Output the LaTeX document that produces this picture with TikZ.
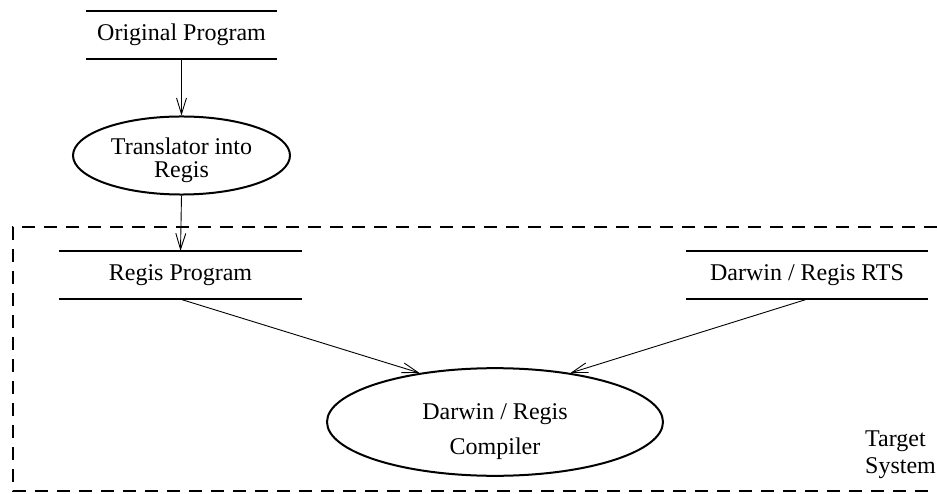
\documentclass[tikz,border=0pt]{standalone}
\usepackage{fontspec}
\setmainfont{Liberation Serif}
\usetikzlibrary{arrows.meta,shapes.geometric}

\tikzset{
  txt/.style={font=\fontsize{24}{24}\selectfont, inner sep=0pt},
  store/.style={txt, minimum height=48pt},
  storeline/.style={line width=2pt},
  process/.style={txt, ellipse, draw, line width=2pt},
  flow/.style={line width=0.9pt, -{Straight Barb[length=16pt,width=10pt,line width=0.9pt]}},
  frame/.style={line width=2pt, dash pattern=on 13pt off 9pt}
}

\begin{document}
\begin{tikzpicture}[x=1pt, y=-1pt]
  \useasboundingbox (0,0) rectangle (937,494);

  % system boundary (open on the right)
  \draw[frame] (937,227) -- (13,227) -- (13,491) -- (937,491);

  % data stores: text between two horizontal rules
  \node[store, minimum width=191pt] (orig) at (181.5,35) {Original Program};
  \node[store, minimum width=242pt] (regis) at (180.5,275) {Regis Program};
  \node[store, minimum width=242pt] (rts) at (807,275) {Darwin / Regis RTS};
  \foreach \s in {orig, regis, rts} {
    \draw[storeline] (\s.north west) -- (\s.north east);
    \draw[storeline] (\s.south west) -- (\s.south east);
  }

  % processes
  \node[process, minimum width=217pt, minimum height=75pt, align=center,
        font=\fontsize{24}{23}\selectfont] (trans) at (181.5,155.5)
        {\rule{0pt}{27pt}Translator into\\Regis};
  \node[process, minimum width=336pt, minimum height=100pt, align=center,
        font=\fontsize{24}{35}\selectfont] (comp) at (495,422)
        {\rule{0pt}{36pt}Darwin / Regis\\Compiler};

  % boundary label
  \node[txt, anchor=west, align=left, font=\fontsize{24}{27}\selectfont]
        (target) at (865,455) {Target\\System};

  % flows
  \draw[flow] (orig.south) -- (trans.north);
  \draw[flow] (trans.south) -- (regis.north);
  \draw[flow] (regis.south) -- (comp.147);
  \draw[flow] (rts.south) -- (comp.33);
\end{tikzpicture}
\end{document}
